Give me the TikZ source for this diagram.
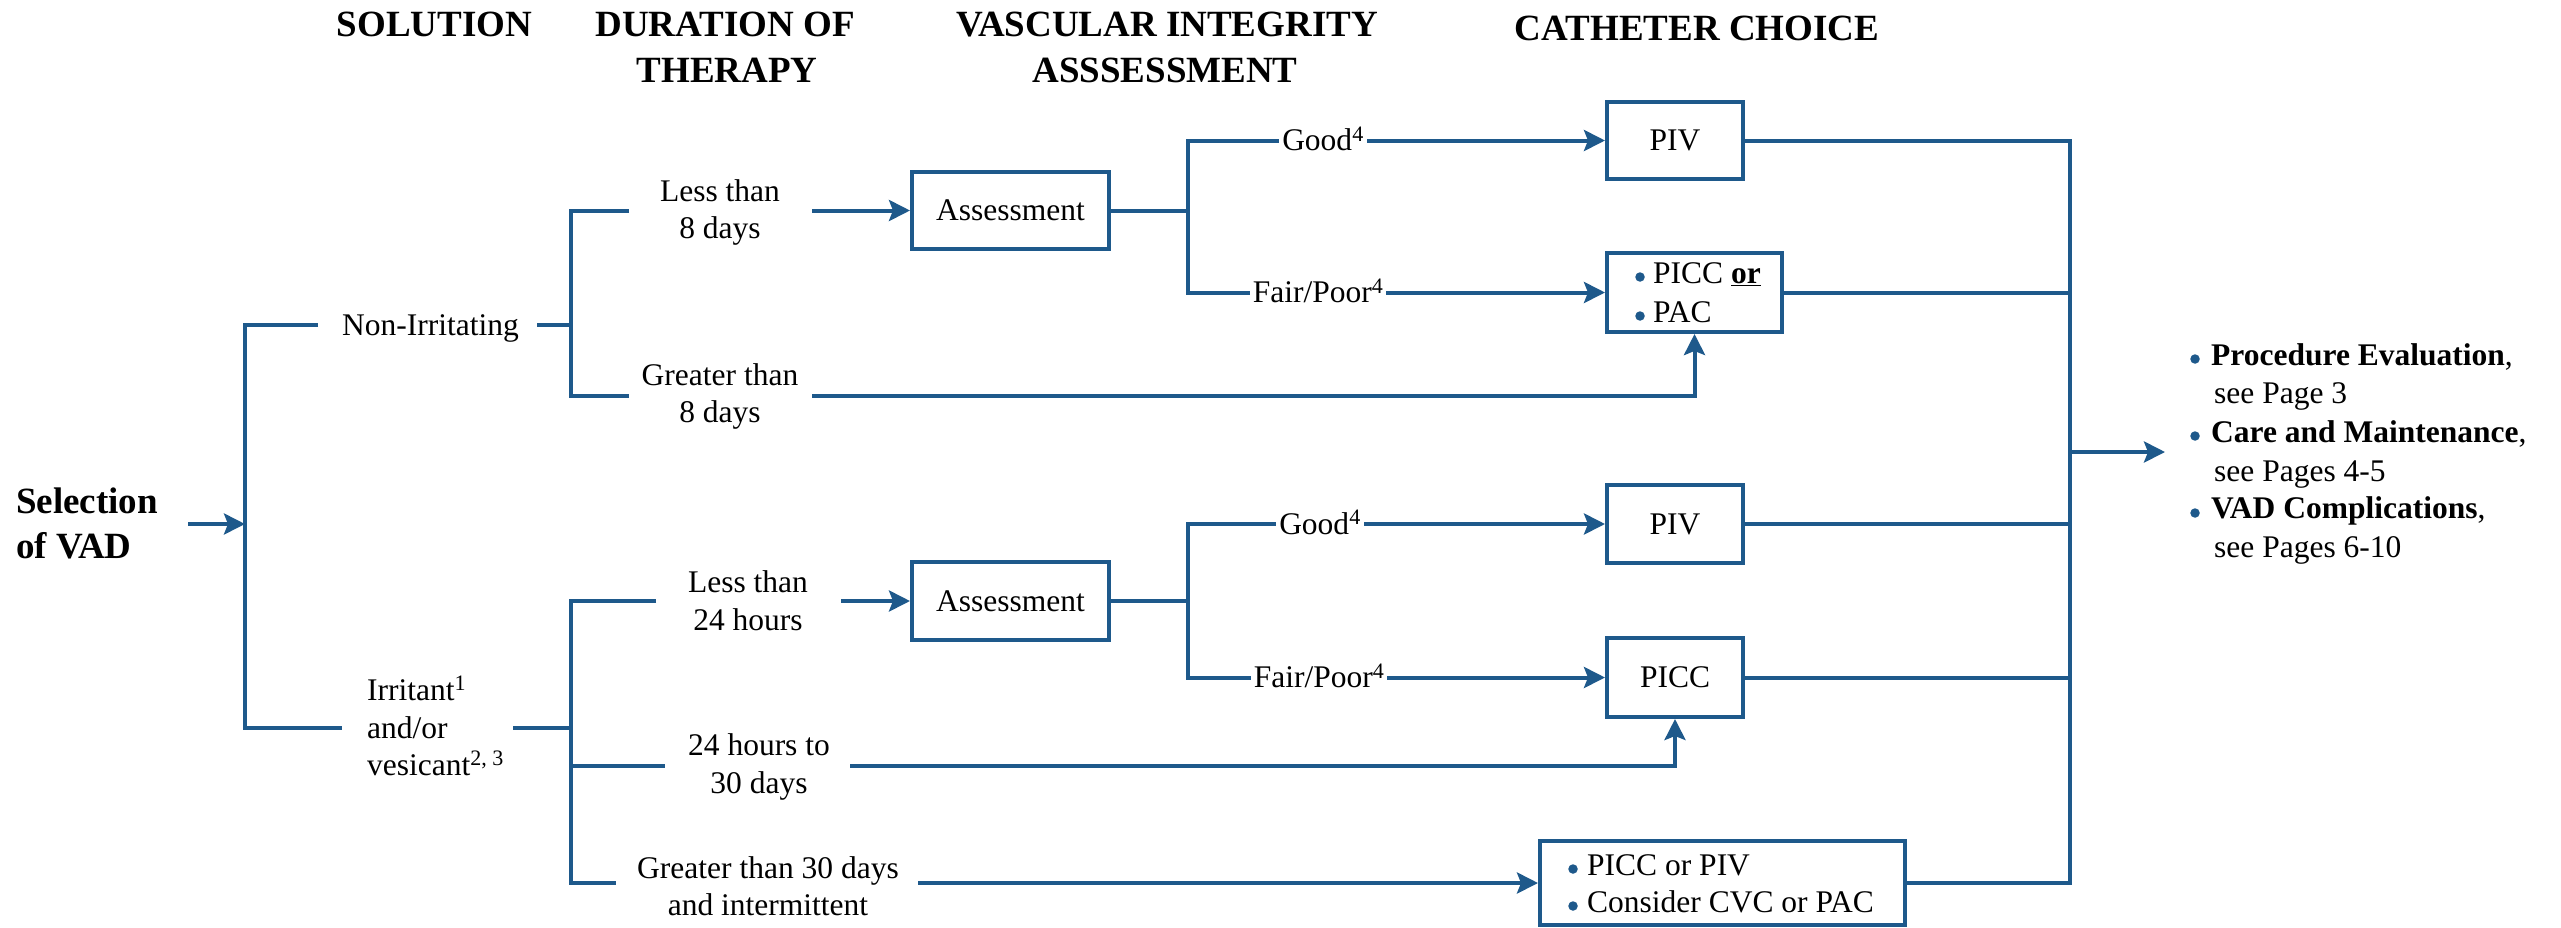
\documentclass[tikz,border=0pt]{standalone}
\usepackage{fontspec}
\setmainfont{Liberation Serif}
\usetikzlibrary{arrows.meta}
\definecolor{vad}{RGB}{30,89,139}

\begin{document}
\begin{tikzpicture}[x=1pt,y=-1pt,
  conn/.style={draw=vad, line width=4pt},
  arr/.style={conn, -{Stealth[length=21pt,width=21pt,inset=4pt]}},
  hdr/.style={font=\bfseries\fontsize{37}{46}\selectfont, inner sep=0pt, anchor=base},
  txt/.style={font=\fontsize{31.5}{37}\selectfont, inner sep=0pt, anchor=base},
  txtl/.style={txt, anchor=base west},
  box/.style={draw=vad, line width=4pt, rectangle, inner sep=0pt, fill=white,
              font=\fontsize{31.5}{37}\selectfont},
  qual/.style={fill=white, inner xsep=3pt, inner ysep=0pt, text height=20pt,
               text depth=0pt, font=\fontsize{31.5}{37}\selectfont},
  dot/.style={circle, fill=vad, inner sep=0pt, minimum size=9.5pt},
]
\useasboundingbox (0,0) rectangle (2561,927);

% column headings
\node[hdr] (hsol)  at (434.5,36) {SOLUTION};
\node[hdr] (hdur1) at (725,36)   {DURATION OF};
\node[hdr] (hdur2) at (727,82)   {THERAPY};
\node[hdr] (hvas1) at (1167,36)  {VASCULAR INTEGRITY};
\node[hdr] (hvas2) at (1165,82)  {ASSSESSMENT};
\node[hdr] (hcat)  at (1697,40)  {CATHETER CHOICE};

% root
\node[hdr, anchor=base west] (sel1) at (16,513) {Selection};
\node[hdr, anchor=base west] (sel2) at (16,558) {of VAD};

% solutions
\node[txtl] (nonirr) at (342,335) {Non-Irritating};
\node[txtl] (irr1) at (367,700) {Irritant\textsuperscript{1}};
\node[txtl] (irr2) at (367,738) {and/or};
\node[txtl] (irr3) at (367,775) {vesicant\textsuperscript{2, 3}};

% durations
\node[txt] (lt8a)  at (720,201) {Less than};
\node[txt] (lt8b)  at (720,238) {8 days};
\node[txt] (gt8a)  at (720,385) {Greater than};
\node[txt] (gt8b)  at (720,422) {8 days};
\node[txt] (lt24a) at (748,592) {Less than};
\node[txt] (lt24b) at (748,630) {24 hours};
\node[txt] (h24a)  at (759,755) {24 hours to};
\node[txt] (h24b)  at (759,793) {30 days};
\node[txt] (gt30a) at (768,878) {Greater than 30 days};
\node[txt] (gt30b) at (768,915) {and intermittent};

% boxes
\node[box, minimum width=197pt, minimum height=77pt] (as1)   at (1010.5,210.5) {Assessment};
\node[box, minimum width=197pt, minimum height=78pt] (as2)   at (1010.5,601)   {Assessment};
\node[box, minimum width=136pt, minimum height=77pt] (piv1)  at (1675,140.5)   {PIV};
\node[box, minimum width=175pt, minimum height=79pt] (pp1)   at (1694.5,292.5) {};
\node[box, minimum width=136pt, minimum height=78pt] (piv2)  at (1675,524)     {PIV};
\node[box, minimum width=136pt, minimum height=79pt] (picc2) at (1675,677.5)   {PICC};
\node[box, minimum width=365pt, minimum height=84pt] (bb)    at (1722.5,883)   {};

% bulleted box contents
\node[dot]  (pp1d1) at (1640,277) {};
\node[txtl] (pp1t1) at (1653,283) {PICC \textbf{\underline{or}}};
\node[dot]  (pp1d2) at (1640,316) {};
\node[txtl] (pp1t2) at (1653,322) {PAC};
\node[dot]  (bbd1)  at (1573,869) {};
\node[txtl] (bbt1)  at (1587,875) {PICC or PIV};
\node[dot]  (bbd2)  at (1573,906) {};
\node[txtl] (bbt2)  at (1587,912) {Consider CVC or PAC};

% follow-up list
\node[dot]  (o1d) at (2195,359) {};
\node[txtl] (o1a) at (2211,365) {\textbf{Procedure Evaluation},};
\node[txtl] (o1b) at (2214,403) {see Page 3};
\node[dot]  (o2d) at (2195,436) {};
\node[txtl] (o2a) at (2211,442) {\textbf{Care and Maintenance},};
\node[txtl] (o2b) at (2214,481) {see Pages 4-5};
\node[dot]  (o3d) at (2195,513) {};
\node[txtl] (o3a) at (2211,518) {\textbf{VAD Complications},};
\node[txtl] (o3b) at (2214,557) {see Pages 6-10};

% branch points and line ends
\coordinate (selout) at (188,524);
\coordinate (trunk)  at (245,524);
\coordinate (tTop)   at (245,325);
\coordinate (tBot)   at (245,728);
\coordinate (nonL)   at (318,325);
\coordinate (nonR)   at (537,325);
\coordinate (irrL)   at (342,728);
\coordinate (irrR)   at (513,728);
\coordinate (v2a)    at (571,325);
\coordinate (v2b)    at (571,728);
\coordinate (lt8L)   at (629,210.5);
\coordinate (lt8R)   at (812,210.5);
\coordinate (gt8L)   at (629,396);
\coordinate (gt8R)   at (812,396);
\coordinate (lt24L)  at (656,601);
\coordinate (lt24R)  at (841,601);
\coordinate (h24L)   at (665,766);
\coordinate (h24R)   at (850,766);
\coordinate (gt30L)  at (616,883);
\coordinate (gt30R)  at (918,883);
\coordinate (s1)     at (1188,210.5);
\coordinate (s2)     at (1188,601);
\coordinate (col)    at (2070,452);
\coordinate (outtip) at (2165,452);

% root to solutions
\draw[arr]  (selout) -- (trunk);
\draw[conn] (nonL) -- (tTop) -- (tBot) -- (irrL);

% non-irritating branch
\draw[conn] (nonR) -- (v2a);
\draw[conn] (lt8L) -- (lt8L -| v2a) -- (gt8L -| v2a) -- (gt8L);
\draw[arr]  (lt8R) -- (as1.west);
\draw[conn] (as1.east) -- (s1);
\draw[arr]  (s1) |- (piv1.west);
\draw[arr]  (s1) |- (pp1.west);
\draw[arr]  (gt8R) -| (pp1.south);

% irritant / vesicant branch
\draw[conn] (irrR) -- (v2b);
\draw[conn] (lt24L) -- (lt24L -| v2b) -- (gt30L -| v2b) -- (gt30L);
\draw[conn] (v2b |- h24L) -- (h24L);
\draw[arr]  (lt24R) -- (as2.west);
\draw[conn] (as2.east) -- (s2);
\draw[arr]  (s2) |- (piv2.west);
\draw[arr]  (s2) |- (picc2.west);
\draw[arr]  (h24R) -| (picc2.south);
\draw[arr]  (gt30R) -- (bb.west);

% collector to follow-up
\draw[conn] (piv1.east) -- (piv1.east -| col) -- (bb.east -| col) -- (bb.east);
\draw[conn] (pp1.east) -- (pp1.east -| col);
\draw[conn] (piv2.east) -- (piv2.east -| col);
\draw[conn] (picc2.east) -- (picc2.east -| col);
\draw[arr]  (col) -- (outtip);

% vascular assessment qualifiers
\node[qual] (good1) at (1323,140.5) {Good\textsuperscript{4}};
\node[qual] (fair1) at (1318,292.5) {Fair/Poor\textsuperscript{4}};
\node[qual] (good2) at (1320,524)   {Good\textsuperscript{4}};
\node[qual] (fair2) at (1319,677.5) {Fair/Poor\textsuperscript{4}};
\end{tikzpicture}
\end{document}
